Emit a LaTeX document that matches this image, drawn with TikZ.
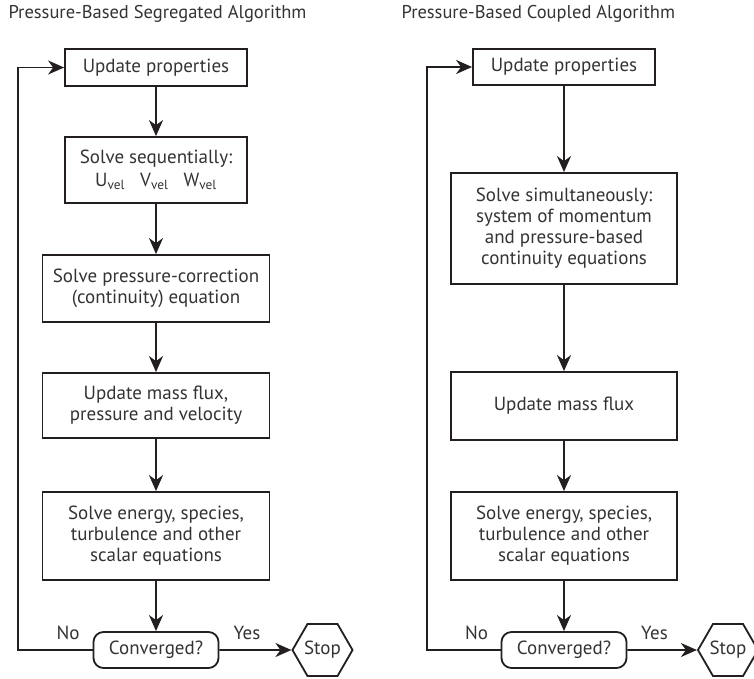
\documentclass[tikz,border=0pt]{standalone}
\usepackage{fontspec}
\setmainfont{PT Sans}
\usetikzlibrary{shapes.geometric,arrows.meta}
\definecolor{linec}{HTML}{231F20}
\definecolor{textc}{HTML}{333333}

\begin{document}
\begin{tikzpicture}[x=1pt, y=-1pt,
    box/.style={draw=linec, line width=1.8pt, text=textc, align=center,
        inner sep=0pt, font=\fontsize{19}{21}\selectfont},
    endbox/.style={box, rounded corners=10pt, minimum width=125pt, minimum height=36pt},
    stopbox/.style={box, regular polygon, regular polygon sides=6, minimum size=60pt},
    flow/.style={draw=linec, line width=1.8pt, -{Stealth[length=16pt,width=14pt,inset=5pt]}},
    lbl/.style={text=textc, font=\fontsize{19}{21}\selectfont},
    title/.style={text=textc, anchor=west, font=\fontsize{18.5}{21}\selectfont}]
    \useasboundingbox (0,0) rectangle (754,678);

    % 标题
    \node[title] (t1) at (5,14) {Pressure-Based Segregated Algorithm};
    \node[title] (t2) at (398,14) {Pressure-Based Coupled Algorithm};

    % 左: 分离算法
    \node[box, minimum width=182pt, minimum height=37pt] (up1) at (156,67.5) {Update properties};
    \node[box, minimum width=182pt, minimum height=66pt] (seq) at (156,170)
        {Solve sequentially:\\[2pt] U\textsubscript{vel}\hspace{0.8em}V\textsubscript{vel}\hspace{0.8em}W\textsubscript{vel}};
    \node[box, minimum width=227pt, minimum height=67pt] (pc) at (156,288.5)
        {Solve pressure-correction\\(continuity) equation};
    \node[box, minimum width=227pt, minimum height=65pt] (mf1) at (156,405.5)
        {Update mass flux,\\pressure and velocity};
    \node[box, minimum width=227pt, minimum height=88pt] (en1) at (156,536)
        {Solve energy, species,\\turbulence and other\\scalar equations};
    \node[endbox] (cv1) at (156,650) {Converged?};
    \node[stopbox] (st1) at (322.5,650) {Stop};

    \draw[flow] (up1) -- (seq);
    \draw[flow] (seq) -- (pc);
    \draw[flow] (pc) -- (mf1);
    \draw[flow] (mf1) -- (en1);
    \draw[flow] (en1) -- (cv1);
    \draw[flow] (cv1) -- (st1);
    % 回路
    \coordinate (lp1) at (18,650);
    \draw[flow] (cv1.west) -- (lp1) |- (up1.west);
    \node[lbl] (no1) at (68,633) {No};
    \node[lbl] (yes1) at (247,633) {Yes};

    % 右: 耦合算法
    \node[box, minimum width=182pt, minimum height=36pt] (up2) at (564,67) {Update properties};
    \node[box, minimum width=226pt, minimum height=111pt] (sim) at (564,228.5)
        {Solve simultaneously:\\system of momentum\\and pressure-based\\continuity equations};
    \node[box, minimum width=226pt, minimum height=68pt] (mf2) at (564,406) {Update mass flux};
    \node[box, minimum width=226pt, minimum height=88pt] (en2) at (564,536)
        {Solve energy, species,\\turbulence and other\\scalar equations};
    \node[endbox] (cv2) at (564,650) {Converged?};
    \node[stopbox] (st2) at (728,650) {Stop};

    \draw[flow] (up2) -- (sim);
    \draw[flow] (sim) -- (mf2);
    \draw[flow] (mf2) -- (en2);
    \draw[flow] (en2) -- (cv2);
    \draw[flow] (cv2) -- (st2);
    % 回路
    \coordinate (lp2) at (427,650);
    \draw[flow] (cv2.west) -- (lp2) |- (up2.west);
    \node[lbl] (no2) at (476.5,633) {No};
    \node[lbl] (yes2) at (654.5,633) {Yes};
\end{tikzpicture}
\end{document}
